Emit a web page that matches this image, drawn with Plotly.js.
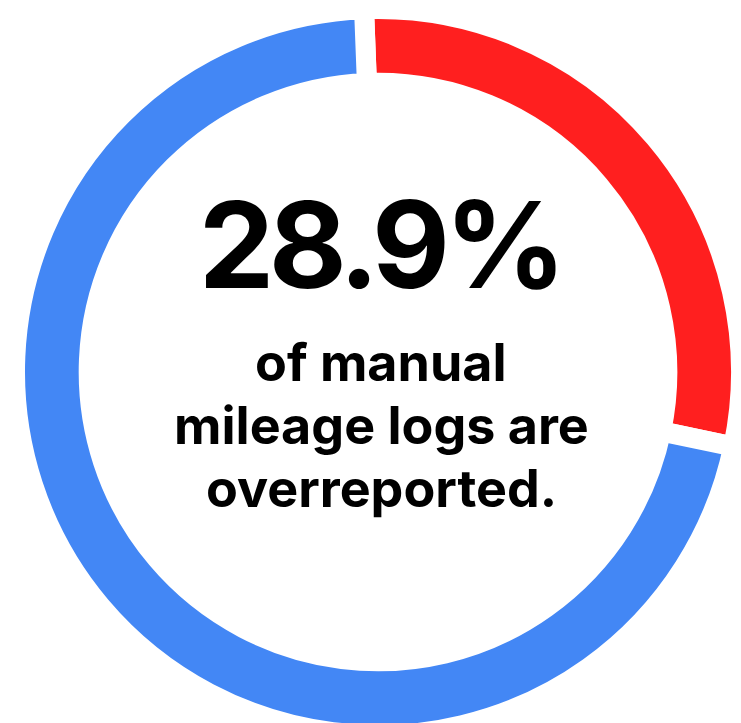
<!DOCTYPE html>
<html>
<head>
<meta charset="utf-8">
<script src="https://cdn.plot.ly/plotly-3.0.1.min.js"></script>
<style>
html,body{margin:0;padding:0;overflow:hidden;background:#fff;}
#chart{width:741px;height:760px;}
</style>
</head>
<body>
<div id="chart"></div>
<script>
var labels = ["Overreported", "Accurate"];
var values = [28.9, 71.1];
var colors = ["#FF1F1F", "#4387F5"];
var headline = "28.9%";
var sublines = ["of manual", "mileage logs are", "overreported."];

var W = 741, H = 760;
var trace = {
  type: "pie",
  labels: labels,
  values: values,
  hole: 0.797,
  sort: false,
  direction: "clockwise",
  rotation: -2.2,
  textinfo: "none",
  hoverinfo: "none",
  marker: {colors: colors, line: {color: "#ffffff", width: 20}},
  domain: {x: [15 / W, 1], y: [25 / H, 751 / H]}
};

var ann = [
  {text: headline, x: 380 / W, y: 1 - 244 / H, xref: "paper", yref: "paper",
   xanchor: "center", yanchor: "middle", showarrow: false,
   font: {family: "Inter", size: 120, weight: 700, color: "#000000"}}
];
var subCenters = [362, 425, 489];
sublines.forEach(function (t, i) {
  ann.push({text: t, x: 381 / W, y: 1 - subCenters[i] / H, xref: "paper", yref: "paper",
    xanchor: "center", yanchor: "middle", showarrow: false,
    font: {family: "Inter", size: 52, weight: 700, color: "#000000"}});
});

var layout = {
  width: W, height: H,
  margin: {l: 0, r: 0, t: 0, b: 0},
  showlegend: false,
  paper_bgcolor: "#ffffff",
  annotations: ann
};

Plotly.newPlot("chart", [trace], layout, {displayModeBar: false, staticPlot: true}).then(function () {
  var t = document.querySelectorAll("#chart .annotation-text")[0];
  if (t) t.style.letterSpacing = "-5.5px";
});
</script>
</body>
</html>
